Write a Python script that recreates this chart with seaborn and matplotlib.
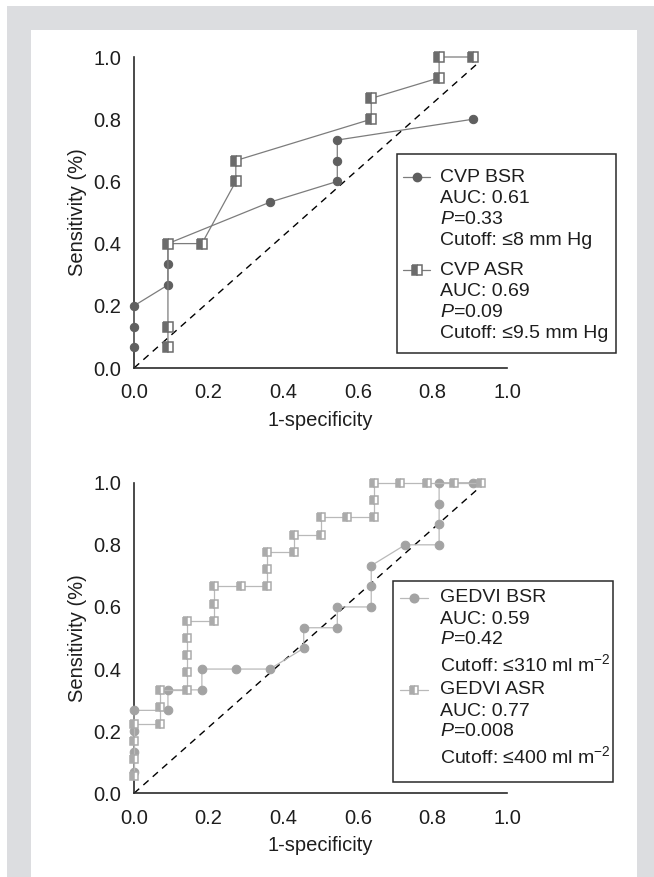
import matplotlib
matplotlib.use("Agg")
import matplotlib.pyplot as plt
import seaborn as sns
import pandas as pd
from matplotlib.patches import Rectangle
from matplotlib.lines import Line2D

sns.set_theme(style="white")
plt.rcParams["font.family"] = ["Liberation Sans", "DejaVu Sans"]
plt.rcParams["mathtext.fontset"] = "custom"
plt.rcParams["mathtext.rm"] = "Liberation Sans"
plt.rcParams["mathtext.it"] = "Liberation Sans:italic"
plt.rcParams["mathtext.default"] = "regular"

# ---------------- data ----------------
cvp_bsr_x = [0, 0, 0, 0.091, 0.091, 0.091, 0.364, 0.545, 0.545, 0.545, 0.909]
cvp_bsr_y = [0.067, 0.133, 0.2, 0.267, 0.333, 0.4, 0.533, 0.6, 0.667, 0.733, 0.8]

cvp_asr_x = [0.091, 0.091, 0.091, 0.182, 0.273, 0.273, 0.636, 0.636, 0.818, 0.818, 0.909]
cvp_asr_y = [0.067, 0.133, 0.4, 0.4, 0.6, 0.667, 0.8, 0.867, 0.933, 1.0, 1.0]

gedvi_bsr_x = [0, 0, 0, 0, 0.091, 0.091, 0.182, 0.182, 0.273, 0.364, 0.455, 0.455,
               0.545, 0.545, 0.636, 0.636, 0.636, 0.727, 0.818, 0.818, 0.818, 0.818, 0.909]
gedvi_bsr_y = [0.067, 0.133, 0.2, 0.267, 0.267, 0.333, 0.333, 0.4, 0.4, 0.4, 0.467, 0.533,
               0.533, 0.6, 0.6, 0.667, 0.733, 0.8, 0.8, 0.867, 0.933, 1.0, 1.0]

gedvi_asr_x = [0, 0, 0, 0, 0.071, 0.071, 0.071, 0.143, 0.143, 0.143, 0.143, 0.143,
               0.214, 0.214, 0.214, 0.286, 0.357, 0.357, 0.357, 0.429, 0.429, 0.5, 0.5,
               0.571, 0.643, 0.643, 0.643, 0.714, 0.786, 0.857, 0.929]
gedvi_asr_y = [0.056, 0.111, 0.167, 0.222, 0.222, 0.278, 0.333, 0.333, 0.389, 0.444, 0.5, 0.556,
               0.556, 0.611, 0.667, 0.667, 0.667, 0.722, 0.778, 0.778, 0.833, 0.833, 0.889,
               0.889, 0.889, 0.944, 1.0, 1.0, 1.0, 1.0, 1.0]

ref_x = [0, 0.92]
ref_y = [0, 0.978]

ticks = [0.0, 0.2, 0.4, 0.6, 0.8, 1.0]
tick_labels = ["0.0", "0.2", "0.4", "0.6", "0.8", "1.0"]

top_legend = [
    ["CVP BSR", "AUC: 0.61", r"$\mathit{P}$=0.33", "Cutoff: ≤8 mm Hg"],
    ["CVP ASR", "AUC: 0.69", r"$\mathit{P}$=0.09", "Cutoff: ≤9.5 mm Hg"],
]
bottom_legend = [
    ["GEDVI BSR", "AUC: 0.59", r"$\mathit{P}$=0.42", r"Cutoff: ≤310 ml m$^{-2}$"],
    ["GEDVI ASR", "AUC: 0.77", r"$\mathit{P}$=0.008", r"Cutoff: ≤400 ml m$^{-2}$"],
]

# ---------------- figure ----------------
W, H = 654, 877
fig = plt.figure(figsize=(W / 100, H / 100), dpi=100)
fig.patch.set_facecolor("white")


def fig_rect(x0, y0, x1, y1, color):
    fig.add_artist(Rectangle((x0 / W, 1 - y1 / H), (x1 - x0) / W, (y1 - y0) / H,
                             transform=fig.transFigure, facecolor=color,
                             edgecolor="none", zorder=-10))


fig_rect(7, 6, 654, 877, "#dcdde0")
fig_rect(31, 30, 637, 877, "white")


def make_axes(top_px, bottom_px):
    left_px, right_px = 134, 507
    return fig.add_axes([left_px / W, 1 - bottom_px / H,
                         (right_px - left_px) / W, (bottom_px - top_px) / H])


style_top = dict(
    c_line="#7c7c7c", c_circ="#5f5f5f", c_sq="#6c6c6c", ms_c=6.0, ms_s=7.6,
)
style_bot = dict(
    c_line="#b9b9b9", c_circ="#a3a3a3", c_sq="#ababab", ms_c=6.2, ms_s=6.0,
)


def draw_panel(ax, bx, by, ax_, ay_, st, legend_box, legend_rows, handle_x):
    sns.lineplot(x=bx, y=by, ax=ax, sort=False, estimator=None, color=st["c_line"],
                 lw=0.9, marker="o", ms=st["ms_c"], mfc=st["c_circ"], mec=st["c_circ"],
                 clip_on=False, zorder=3)
    sns.lineplot(x=ax_, y=ay_, ax=ax, sort=False, estimator=None, color=st["c_line"],
                 lw=0.9, marker="s", ms=st["ms_s"], mfc=st["c_sq"], mec=st["c_sq"],
                 fillstyle="left", markerfacecoloralt="white", mew=1.1,
                 clip_on=False, zorder=4)
    ax.plot(ref_x, ref_y, color="black", lw=1.0, ls=(0, (5, 4)), zorder=2)

    ax.set_xlim(0, 1)
    ax.set_ylim(0, 1)
    ax.set_xticks(ticks)
    ax.set_yticks(ticks)
    ax.set_xticklabels(tick_labels)
    ax.set_yticklabels(tick_labels)
    for s in ["top", "right"]:
        ax.spines[s].set_visible(False)
    for s in ["left", "bottom"]:
        ax.spines[s].set_color("#2a2a2a")
        ax.spines[s].set_linewidth(1.2)
    ax.tick_params(axis="both", direction="out", length=5.5, width=1.1, color="#2a2a2a",
                   labelsize=14.5, labelcolor="#1e1e1e")
    ax.tick_params(axis="x", pad=5.5)
    ax.tick_params(axis="y", pad=3.5)
    ax.set_xlabel("1-specificity", fontsize=14.5, color="#1e1e1e", labelpad=6)
    ax.set_ylabel("Sensitivity (%)", fontsize=14.5, color="#1e1e1e", labelpad=5)
    ax.set_facecolor("none")

    # legend box (manual)
    x0, y0, w, h = legend_box
    ax.add_patch(Rectangle((x0, y0), w, h, transform=ax.transAxes, facecolor="white",
                           edgecolor="#2a2a2a", lw=1.1, clip_on=False, zorder=5))
    handles = [
        dict(marker="o", ms=st["ms_c"], mfc=st["c_circ"], mec=st["c_circ"]),
        dict(marker="s", ms=st["ms_s"], mfc=st["c_sq"], mec=st["c_sq"],
             fillstyle="left", markerfacecoloralt="white", mew=1.1),
    ]
    for (rows, ys), hd in zip(legend_rows, handles):
        hx0, hx1 = handle_x
        ax.add_line(Line2D([hx0, hx1], [ys[0], ys[0]], color=st["c_line"], lw=0.9,
                           transform=ax.transAxes, clip_on=False, zorder=6))
        ax.add_line(Line2D([(hx0 + hx1) / 2], [ys[0]], color=st["c_line"], lw=0,
                           transform=ax.transAxes, clip_on=False, zorder=7, **hd))
        for txt, yy in zip(rows, ys):
            ax.text(0.820, yy, txt, transform=ax.transAxes, fontsize=14, color="#1e1e1e",
                    va="center", ha="left", zorder=8)


# top panel
ax1 = make_axes(57, 368)
top_ys_px = [[177, 198, 219, 240], [270, 291, 312, 333]]
top_rows = [(r, [(368 - p) / 311 for p in ps]) for r, ps in zip(top_legend, top_ys_px)]
draw_panel(ax1, cvp_bsr_x, cvp_bsr_y, cvp_asr_x, cvp_asr_y, style_top,
           (0.705, 0.048, 0.587, 0.640), top_rows, (0.721, 0.794))

# bottom panel
ax2 = make_axes(482.7, 793.3)
bot_ys_px = [[598, 619, 640, 664], [690, 711, 732, 756]]
bot_rows = [(r, [(793.3 - p) / 310.6 for p in ps]) for r, ps in zip(bottom_legend, bot_ys_px)]
draw_panel(ax2, gedvi_bsr_x, gedvi_bsr_y, gedvi_asr_x, gedvi_asr_y, style_bot,
           (0.694, 0.036, 0.590, 0.647), bot_rows, (0.712, 0.788))

fig.savefig("out.png", dpi=100, facecolor=fig.get_facecolor())
